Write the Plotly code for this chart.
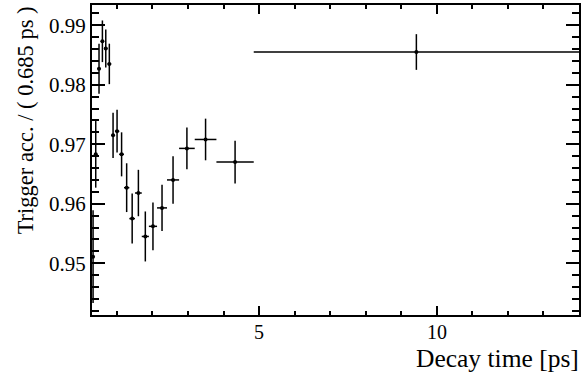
import numpy as np
import plotly.graph_objects as go

# Bin edges in decay time [ps] (variable binning, 20 bins)
bin_edges = [0.30, 0.36, 0.45, 0.545, 0.64, 0.735, 0.84, 0.945, 1.065, 1.20,
             1.35, 1.51, 1.70, 1.90, 2.13, 2.41, 2.75, 3.19, 3.80, 4.85, 14.0]
# Trigger acceptance per bin
acc_values = [0.9511, 0.9683, 0.9827, 0.9873, 0.9861, 0.9835, 0.9715, 0.9722,
              0.9683, 0.9627, 0.9575, 0.9618, 0.9545, 0.9562, 0.9593, 0.9640,
              0.9693, 0.9708, 0.9670, 0.9855]
# Uncertainties
acc_errors = [0.0078, 0.0056, 0.0042, 0.0035, 0.0032, 0.0034, 0.0038, 0.0036,
              0.0037, 0.0041, 0.0042, 0.0039, 0.0042, 0.0040, 0.0039, 0.0040,
              0.0035, 0.0035, 0.0036, 0.0030]

y_tick_vals = [0.95, 0.96, 0.97, 0.98, 0.99]
y_tick_text = ["0.95", "0.96", "0.97", "0.98", "0.99"]
x_tick_vals = [5, 10]
x_tick_text = ["5", "10"]

edges = np.array(bin_edges)
centers = 0.5 * (edges[:-1] + edges[1:])
half_w = 0.5 * (edges[1:] - edges[:-1])

FONT = "Liberation Serif"

fig = go.Figure()
fig.add_trace(go.Scatter(
    x=centers, y=acc_values, mode="markers",
    marker=dict(color="black", size=4),
    error_x=dict(type="data", array=half_w, color="black", thickness=1.5, width=0),
    error_y=dict(type="data", array=acc_errors, color="black", thickness=1.5, width=0),
    showlegend=False, cliponaxis=True,
))

axis_common = dict(
    showline=True, linecolor="black", linewidth=2, mirror="ticks",
    ticks="inside", tickcolor="black", tickwidth=1.5,
    showgrid=False, zeroline=False,
    tickfont=dict(family=FONT, size=21, color="black"),
)

fig.update_xaxes(
    range=[0.3, 14.0], tickvals=x_tick_vals, ticktext=x_tick_text,
    showticklabels=False,
    ticklen=9,
    minor=dict(dtick=1, tick0=0, ticklen=4, ticks="inside", tickcolor="black", tickwidth=1.5),
    **axis_common,
)
fig.update_yaxes(
    range=[0.9413, 0.9934], tickvals=y_tick_vals, ticktext=y_tick_text,
    ticklen=13,
    minor=dict(dtick=0.002, tick0=0.94, ticklen=7, ticks="inside", tickcolor="black", tickwidth=1.5),
    ticklabelstandoff=0,
    **axis_common,
)

# x tick labels placed through the x axis scale
for tv, tt in zip(x_tick_vals, x_tick_text):
    fig.add_annotation(
        text=tt, xref="x", yref="paper", x=tv, y=0, yshift=-17,
        xanchor="center", yanchor="middle", showarrow=False,
        font=dict(family=FONT, size=20, color="black"),
    )

fig.add_annotation(
    text="Trigger acc. / ( 0.685 ps )", textangle=-90,
    xref="paper", yref="paper", x=-0.137, y=1.003,
    xanchor="center", yanchor="top", showarrow=False,
    font=dict(family=FONT, size=22.5, color="black"),
)
fig.add_annotation(
    text="Decay time [ps]",
    xref="paper", yref="paper", x=1.0, y=0, yshift=-43, xshift=2,
    xanchor="right", yanchor="middle", showarrow=False,
    font=dict(family=FONT, size=25.5, color="black"),
)

fig.update_layout(
    width=582, height=377,
    margin=dict(l=92, r=1, t=5, b=62),
    paper_bgcolor="white", plot_bgcolor="white",
    font=dict(family=FONT, size=20, color="black"),
)

fig.write_html("out.html")
